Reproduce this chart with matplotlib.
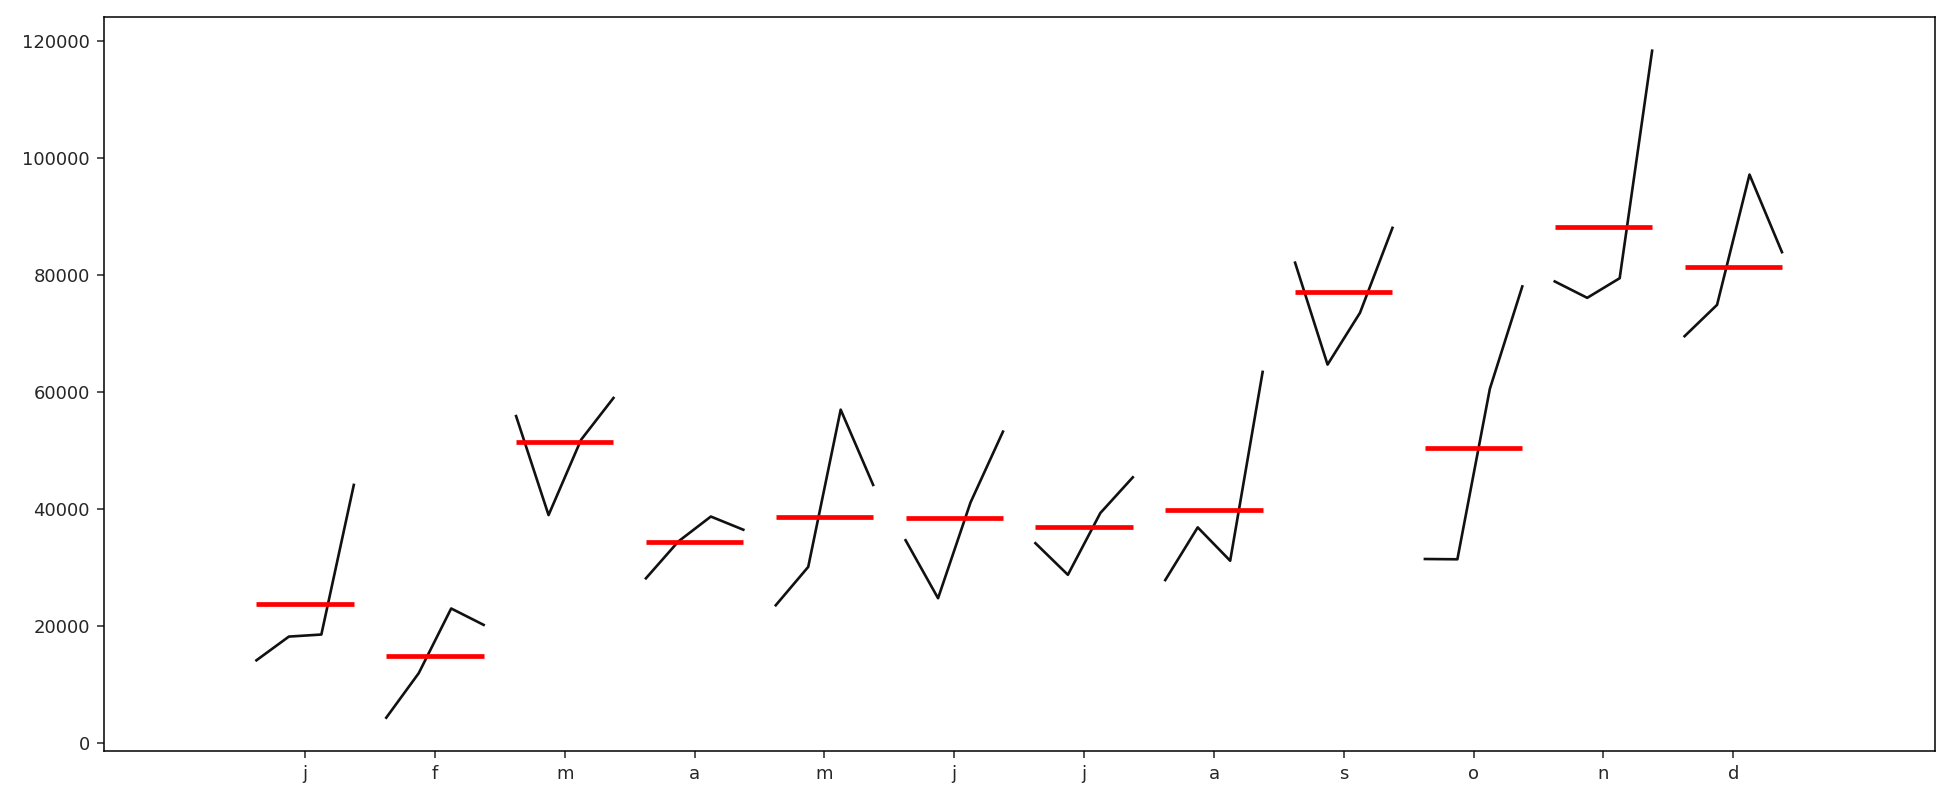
import matplotlib
matplotlib.use("Agg")
import matplotlib.pyplot as plt
import numpy as np

# monthly values, 4 years per month
months = ["j", "f", "m", "a", "m", "j", "j", "a", "s", "o", "n", "d"]
jan = [14200, 18250, 18600, 44150]
feb = [4400, 12000, 23050, 20250]
mar = [55900, 39000, 51850, 59000]
apr = [28200, 34500, 38750, 36500]
may = [23600, 30150, 57000, 44150]
jun = [34700, 24800, 41150, 53250]
jul = [34200, 28800, 39350, 45450]
aug = [27900, 36900, 31200, 63450]
sep = [82100, 64700, 73550, 88050]
oct_ = [31500, 31450, 60550, 78050]
nov = [78900, 76100, 79450, 118300]
dec = [69550, 74900, 97150, 83900]
series = [jan, feb, mar, apr, may, jun, jul, aug, sep, oct_, nov, dec]

plt.rcParams["font.size"] = 13
plt.rcParams["axes.linewidth"] = 1.1
for a in ["xtick", "ytick"]:
    plt.rcParams[a + ".major.size"] = 5
    plt.rcParams[a + ".major.pad"] = 5
    plt.rcParams[a + ".major.width"] = 1.1
    plt.rcParams[a + ".color"] = "#262626"

fig = plt.figure(figsize=(19.6, 8.08), dpi=100)
ax = fig.add_axes([0.053, 0.0705, 0.934, 0.908])

start = 0
ticks = []
for vals in series:
    x = np.arange(start, start + len(vals))
    ticks.append(x.mean())
    ax.plot(x, vals, color="#111111", linewidth=1.9)
    ax.hlines(np.mean(vals), x[0], x[-1], colors="r", linewidth=3.4)
    start += len(vals)

ax.set_xticks(ticks)
ax.set_xticklabels(months)
ax.margins(.1, .05)

plt.savefig("out.png", dpi=100)
